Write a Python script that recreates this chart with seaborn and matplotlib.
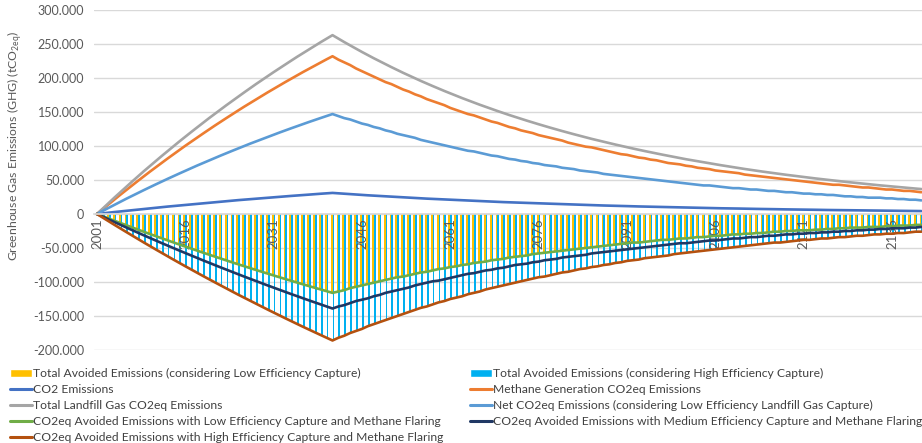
import matplotlib
matplotlib.use("Agg")
import numpy as np
import pandas as pd
import matplotlib.pyplot as plt
import seaborn as sns
from matplotlib.lines import Line2D
from matplotlib.patches import Patch
from matplotlib.ticker import FuncFormatter, MultipleLocator

sns.set_theme(style="whitegrid")
plt.rcParams['font.family'] = ['Lato', 'DejaVu Sans']
plt.rcParams['mathtext.fontset'] = 'custom'
plt.rcParams['mathtext.rm'] = 'Lato'

# --- data (thousand tCO2eq), one value per year 2001-2141 ---
years = list(range(2001, 2142))

co2 = [
    0, 1.0, 1.9, 2.9, 3.8, 4.7, 5.6, 6.6, 7.4, 8.3,
    9.2, 10.1, 10.9, 11.7, 12.6, 13.4, 14.2, 15.0, 15.8, 16.6,
    17.4, 18.1, 18.9, 19.6, 20.4, 21.1, 21.8, 22.5, 23.2, 23.9,
    24.6, 25.3, 25.9, 26.6, 27.2, 27.9, 28.5, 29.2, 29.8, 30.4,
    31.0,
    30.4, 29.8, 29.2, 28.7, 28.1, 27.5, 27.0, 26.5, 26.0, 25.5,
    25.0, 24.5, 24.0, 23.5, 23.1, 22.6, 22.2, 21.7, 21.3, 20.9,
    20.5, 20.1, 19.7, 19.3, 18.9, 18.6, 18.2, 17.9, 17.5, 17.2,
    16.8, 16.5, 16.2, 15.9, 15.6, 15.3, 15.0, 14.7, 14.4, 14.1,
    13.8, 13.6, 13.3, 13.0, 12.8, 12.5, 12.3, 12.0, 11.8, 11.6,
    11.3, 11.1, 10.9, 10.7, 10.5, 10.3, 10.1, 9.9, 9.7, 9.5,
    9.3, 9.1, 9.0, 8.8, 8.6, 8.4, 8.3, 8.1, 8.0, 7.8,
    7.7, 7.5, 7.4, 7.2, 7.1, 6.9, 6.8, 6.7, 6.5, 6.4,
    6.3, 6.2, 6.0, 5.9, 5.8, 5.7, 5.6, 5.5, 5.4, 5.3,
    5.2, 5.1, 5.0, 4.9, 4.8, 4.7, 4.6, 4.5, 4.4, 4.3,
]

methane = [
    0, 7.3, 14.4, 21.5, 28.5, 35.4, 42.3, 49.0, 55.7, 62.3,
    68.8, 75.3, 81.6, 87.9, 94.1, 100.3, 106.3, 112.3, 118.2, 124.1,
    129.9, 135.6, 141.2, 146.8, 152.3, 157.8, 163.1, 168.5, 173.7, 178.9,
    184.0, 189.1, 194.1, 199.0, 203.9, 208.8, 213.5, 218.2, 222.9, 227.5,
    232.0,
    227, 223, 219, 214, 210, 206, 202, 198, 194, 191,
    187, 183, 180, 176, 173, 169, 166, 163, 160, 156,
    153, 150, 147, 145, 142, 139, 136, 134, 131, 128,
    126, 123, 121, 119, 116, 114, 112, 110, 108, 105,
    103, 101, 99, 98, 96, 94, 92, 90, 88, 87,
    85, 83, 82, 80, 79, 77, 75, 74, 73, 71,
    70, 68, 67, 66, 64, 63, 62, 61, 60, 58,
    57, 56, 55, 54, 53, 52, 51, 50, 49, 48,
    47, 46, 45, 44, 43, 43, 42, 41, 40, 39,
    39, 38, 37, 36, 36, 35, 34, 34, 33, 32,
]

total_lfg = [
    0, 8.2, 16.4, 24.4, 32.3, 40.2, 47.9, 55.6, 63.2, 70.6,
    78.0, 85.3, 92.5, 99.7, 106.7, 113.7, 120.5, 127.3, 134.0, 140.7,
    147.2, 153.7, 160.1, 166.4, 172.7, 178.8, 184.9, 191.0, 196.9, 202.8,
    208.6, 214.3, 220.0, 225.6, 231.2, 236.6, 242.0, 247.4, 252.7, 257.9,
    263.0,
    257.9, 252.8, 247.9, 243.1, 238.3, 233.7, 229.1, 224.7, 220.3, 216.0,
    211.8, 207.6, 203.6, 199.6, 195.7, 191.9, 188.2, 184.5, 180.9, 177.4,
    173.9, 170.5, 167.2, 163.9, 160.7, 157.6, 154.5, 151.5, 148.5, 145.6,
    142.8, 140.0, 137.3, 134.6, 132.0, 129.4, 126.9, 124.4, 122.0, 119.6,
    117.3, 115.0, 112.7, 110.5, 108.4, 106.3, 104.2, 102.2, 100.2, 98.2,
    96.3, 94.4, 92.6, 90.8, 89.0, 87.3, 85.6, 83.9, 82.2, 80.6,
    79.1, 77.5, 76.0, 74.5, 73.1, 71.7, 70.3, 68.9, 67.5, 66.2,
    64.9, 63.7, 62.4, 61.2, 60.0, 58.8, 57.7, 56.6, 55.5, 54.4,
    53.3, 52.3, 51.3, 50.3, 49.3, 48.3, 47.4, 46.5, 45.5, 44.7,
    43.8, 42.9, 42.1, 41.3, 40.5, 39.7, 38.9, 38.1, 37.4, 36.7,
]

net_low = [
    0, 4.6, 9.1, 13.6, 18.1, 22.5, 26.8, 31.1, 35.3, 39.5,
    43.6, 47.7, 51.7, 55.7, 59.6, 63.5, 67.4, 71.2, 74.9, 78.6,
    82.3, 85.9, 89.5, 93.0, 96.5, 100.0, 103.4, 106.7, 110.1, 113.4,
    116.6, 119.8, 123.0, 126.1, 129.2, 132.3, 135.3, 138.3, 141.2, 144.1,
    147.0,
    144, 141, 139, 136, 133, 131, 128, 126, 123, 121,
    118, 116, 114, 112, 109, 107, 105, 103, 101, 99,
    97, 95, 93, 92, 90, 88, 86, 85, 83, 81,
    80, 78, 77, 75, 74, 72, 71, 70, 68, 67,
    66, 64, 63, 62, 61, 59, 58, 57, 56, 55,
    54, 53, 52, 51, 50, 49, 48, 47, 46, 45,
    44, 43, 42, 42, 41, 40, 39, 38, 38, 37,
    36, 36, 35, 34, 34, 33, 32, 32, 31, 30,
    30, 29, 29, 28, 28, 27, 26, 26, 25, 25,
    24, 24, 24, 23, 23, 22, 22, 21, 21, 20,
]

avoided_low = [
    0, -3.4, -6.7, -10.0, -13.3, -16.6, -19.9, -23.1, -26.3, -29.4,
    -32.6, -35.7, -38.8, -41.8, -44.9, -47.9, -50.9, -53.9, -56.8, -59.7,
    -62.6, -65.5, -68.4, -71.2, -74.0, -76.8, -79.5, -82.3, -85.0, -87.7,
    -90.4, -93.0, -95.7, -98.3, -100.9, -103.4, -106.0, -108.5, -111.0, -113.5,
    -116.0,
    -114, -112, -109, -107, -105, -103, -101, -99, -97, -95,
    -93, -92, -90, -88, -86, -85, -83, -81, -80, -78,
    -77, -75, -74, -72, -71, -70, -68, -67, -66, -64,
    -63, -62, -61, -59, -58, -57, -56, -55, -54, -53,
    -52, -51, -50, -49, -48, -47, -46, -45, -44, -43,
    -42, -42, -41, -40, -39, -38, -38, -37, -36, -36,
    -35, -34, -34, -33, -32, -32, -31, -30, -30, -29,
    -29, -28, -28, -27, -26, -26, -25, -25, -24, -24,
    -24, -23, -23, -22, -22, -21, -21, -20, -20, -20,
    -19, -19, -19, -18, -18, -17, -17, -17, -16, -16,
]

avoided_med = [
    0, -4.0, -8.1, -12.0, -16.0, -19.9, -23.8, -27.6, -31.5, -35.3,
    -39.0, -42.8, -46.5, -50.1, -53.8, -57.4, -61.0, -64.5, -68.1, -71.6,
    -75.0, -78.5, -81.9, -85.3, -88.7, -92.0, -95.3, -98.6, -101.9, -105.1,
    -108.3, -111.5, -114.6, -117.8, -120.9, -124.0, -127.0, -130.0, -133.1, -136.0,
    -139.0,
    -136, -134, -131, -128, -126, -124, -121, -119, -116, -114,
    -112, -110, -108, -105, -103, -101, -99, -98, -96, -94,
    -92, -90, -88, -87, -85, -83, -82, -80, -79, -77,
    -75, -74, -73, -71, -70, -68, -67, -66, -64, -63,
    -62, -61, -60, -58, -57, -56, -55, -54, -53, -52,
    -51, -50, -49, -48, -47, -46, -45, -44, -43, -43,
    -42, -41, -40, -39, -39, -38, -37, -36, -36, -35,
    -34, -34, -33, -32, -32, -31, -30, -30, -29, -29,
    -28, -28, -27, -27, -26, -26, -25, -25, -24, -24,
    -23, -23, -22, -22, -21, -21, -21, -20, -20, -19,
]

avoided_high = [
    0, -5.4, -10.8, -16.1, -21.4, -26.6, -31.8, -37.0, -42.1, -47.2,
    -52.2, -57.2, -62.2, -67.1, -72.0, -76.8, -81.6, -86.4, -91.1, -95.8,
    -100.4, -105.0, -109.6, -114.1, -118.7, -123.1, -127.6, -131.9, -136.3, -140.6,
    -144.9, -149.2, -153.4, -157.6, -161.8, -165.9, -170.0, -174.0, -178.0, -182.0,
    -186.0,
    -182, -179, -175, -172, -169, -165, -162, -159, -156, -153,
    -150, -147, -144, -141, -138, -136, -133, -130, -128, -125,
    -123, -121, -118, -116, -114, -111, -109, -107, -105, -103,
    -101, -99, -97, -95, -93, -92, -90, -88, -86, -85,
    -83, -81, -80, -78, -77, -75, -74, -72, -71, -69,
    -68, -67, -65, -64, -63, -62, -61, -59, -58, -57,
    -56, -55, -54, -53, -52, -51, -50, -49, -48, -47,
    -46, -45, -44, -43, -42, -42, -41, -40, -39, -38,
    -38, -37, -36, -36, -35, -34, -34, -33, -32, -32,
    -31, -30, -30, -29, -29, -28, -28, -27, -26, -26,
]

# bars share the values of the low / high efficiency avoided-emission lines
bars_low = avoided_low
bars_high = avoided_high

lab_bar_low = "Total Avoided Emissions (considering Low Efficiency Capture)"
lab_bar_high = "Total Avoided Emissions (considering High Efficiency Capture)"
lines = [
    ("CO2 Emissions", co2, "#4472C4"),
    ("Methane Generation CO2eq Emissions", methane, "#ED7D31"),
    ("Total Landfill Gas CO2eq Emissions", total_lfg, "#A5A5A5"),
    ("Net CO2eq Emissions (considering Low Efficiency Landfill Gas Capture)", net_low, "#5B9BD5"),
    ("CO2eq Avoided Emissions with Low Efficiency Capture and Methane Flaring", avoided_low, "#70AD47"),
    ("CO2eq Avoided Emissions with Medium Efficiency Capture and Methane Flaring", avoided_med, "#203864"),
    ("CO2eq Avoided Emissions with High Efficiency Capture and Methane Flaring", avoided_high, "#B4510F"),
]
bar_colors = ["#FFC000", "#00B0F0"]

n = len(years)
for _, vals, _ in lines:
    assert len(vals) == n

fig, ax = plt.subplots(figsize=(9.22, 4.43), dpi=100)
fig.subplots_adjust(left=94 / 922, right=1.0, top=1 - 10 / 443, bottom=1 - 350 / 443)

df_bars = pd.DataFrame({
    "year": years * 2,
    "value": [v * 1000 for v in bars_low + bars_high],
    "series": [lab_bar_low] * n + [lab_bar_high] * n,
})
sns.barplot(data=df_bars, x="year", y="value", hue="series", palette=bar_colors,
            width=0.62, dodge=True, errorbar=None, saturation=1, legend=False,
            linewidth=0, ax=ax)

xpos = np.arange(n)
for label, vals, color in lines:
    sns.lineplot(x=xpos, y=[v * 1000 for v in vals], color=color, linewidth=1.9,
                 ax=ax, legend=False)

ax.set_xlim(-0.5, 140.1)
ax.set_ylim(-200000, 300000)
ax.yaxis.set_major_locator(MultipleLocator(50000))
ax.yaxis.set_major_formatter(FuncFormatter(
    lambda v, p: "0" if v == 0 else f"{v:,.0f}".replace(",", ".")))
ax.set_xticks(xpos[::15])
ax.set_xticklabels([str(y) for y in years[::15]])
ax.tick_params(axis="x", length=0, pad=3, labelsize=9.5, labelcolor="#595959",
               labelrotation=90)
ax.tick_params(axis="y", length=0, pad=7, labelsize=9, labelcolor="#595959")
ax.set_xlabel("")
ax.set_ylabel(r"Greenhouse Gas Emissions (GHG) (tCO$_{\mathrm{2eq}}$)",
              fontsize=8.8, color="#595959")
ax.yaxis.set_label_coords(-0.0845, 0.6)

# horizontal gridlines behind the bars, year labels between bars and lines
ax.grid(False)
for yv in np.arange(-200000, 300001, 50000):
    ax.axhline(yv, color="#D9D9D9", linewidth=1.0, zorder=0.5)
for s in ["left", "top", "right"]:
    ax.spines[s].set_visible(False)
ax.spines["bottom"].set_position(("data", 0))
ax.spines["bottom"].set_color("#D9D9D9")
ax.set_axisbelow("line")

# legend in two columns below the plot
h_left = [Patch(facecolor=bar_colors[0], label=lab_bar_low)]
h_right = [Patch(facecolor=bar_colors[1], label=lab_bar_high)]
for i, (label, _, color) in enumerate(lines):
    h = Line2D([], [], color=color, linewidth=2.2, label=label)
    if i in (0, 2, 4, 6):
        h_left.append(h)
    else:
        h_right.append(h)

leg_kw = dict(frameon=False, fontsize=8.7, handlelength=1.8, handletextpad=0.1,
              labelspacing=0.42, borderpad=0, borderaxespad=0, loc="upper left",
              labelcolor="#404040")
fig.legend(handles=h_left, bbox_to_anchor=(10 / 922, 1 - 368 / 443), **leg_kw)
fig.legend(handles=h_right, bbox_to_anchor=(470 / 922, 1 - 368 / 443), **leg_kw)

fig.savefig("out.png", dpi=100)
plt.close(fig)
